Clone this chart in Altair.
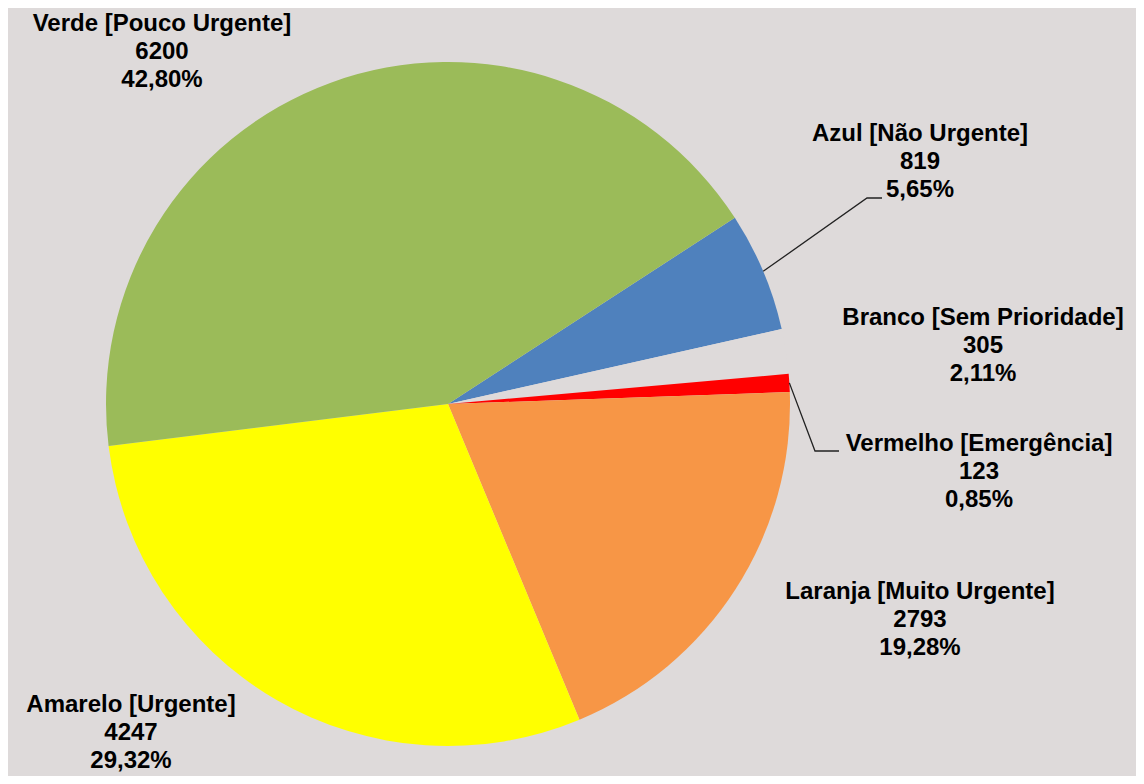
import math
import altair as alt
import pandas as pd

# ---- data ----
categories = [
    "Azul [Não Urgente]",
    "Branco [Sem Prioridade]",
    "Vermelho [Emergência]",
    "Laranja [Muito Urgente]",
    "Amarelo [Urgente]",
    "Verde [Pouco Urgente]",
]
counts = [819, 305, 123, 2793, 4247, 6200]
percent_labels = ["5,65%", "2,11%", "0,85%", "19,28%", "29,32%", "42,80%"]

# ---- styles / layout ----
BG = "#dedada"
slice_colors = ["#4f81bd", BG, "#ff0000", "#f79646", "#ffff00", "#9bbb59"]
W, H = 1128, 768
CX, CY, R = 440, 396, 342
START = math.radians(57)
FONT_SIZE = 24
LINE_H = 28

# label block centres (middle line, chart pixels), hand-placed like the original
label_xy = {
    "Azul [Não Urgente]": (912, 154),
    "Branco [Sem Prioridade]": (975, 338),
    "Vermelho [Emergência]": (971, 464),
    "Laranja [Muito Urgente]": (912, 612),
    "Amarelo [Urgente]": (123, 725),
    "Verde [Pouco Urgente]": (154, 44),
}
# leader elbows (chart pixels)
leader_bends = {
    "Azul [Não Urgente]": [(859, 190), (874, 190)],
    "Vermelho [Emergência]": [(807, 443), (831, 443)],
}

df = pd.DataFrame({
    "cat": categories,
    "value": counts,
    "pct": percent_labels,
    "idx": list(range(len(categories))),
})
df["label"] = [f"{c}\n{v}\n{p}" for c, v, p in zip(categories, counts, percent_labels)]
df["lx"] = [label_xy[c][0] for c in categories]
df["ly"] = [label_xy[c][1] - LINE_H for c in categories]  # first line position

total = sum(counts)
rows = []
cum = 0
mids = {}
for c, v in zip(categories, counts):
    mids[c] = START + 2 * math.pi * (cum + v / 2) / total
    cum += v
for g, (c, bends) in enumerate(leader_bends.items()):
    a = mids[c]
    pts = [(CX + R * math.sin(a), CY - R * math.cos(a))] + bends
    for k, (px, py) in enumerate(pts):
        rows.append({"g": g, "k": k, "x": px, "y": py})
leaders = pd.DataFrame(rows)

pie = alt.Chart(df).mark_arc(outerRadius=R, strokeWidth=0).encode(
    theta=alt.Theta("value:Q", stack=True,
                    scale=alt.Scale(range=[START, START + 2 * math.pi])),
    color=alt.Color("cat:N", scale=alt.Scale(domain=categories, range=slice_colors),
                    legend=None),
    order=alt.Order("idx:Q", sort="ascending"),
    x=alt.value(CX),
    y=alt.value(CY),
)

lines = alt.Chart(leaders).mark_line(color="#222222", strokeWidth=1.3).encode(
    x=alt.X("x:Q", scale=None, axis=None),
    y=alt.Y("y:Q", scale=None, axis=None),
    detail="g:N",
    order="k:Q",
)

labels = alt.Chart(df).mark_text(
    font="Liberation Sans", fontWeight="bold", fontSize=FONT_SIZE, lineHeight=LINE_H,
    align="center", baseline="middle", color="#000000", lineBreak="\n",
).encode(
    x=alt.X("lx:Q", scale=None, axis=None),
    y=alt.Y("ly:Q", scale=None, axis=None),
    text="label:N",
)

chart = alt.layer(pie, lines, labels).properties(
    width=W, height=H, background=BG, padding=0,
    autosize=alt.AutoSizeParams(type="none"),
).configure_view(stroke=None)

chart.save("out.html", embed_options={"renderer": "svg", "actions": False})
